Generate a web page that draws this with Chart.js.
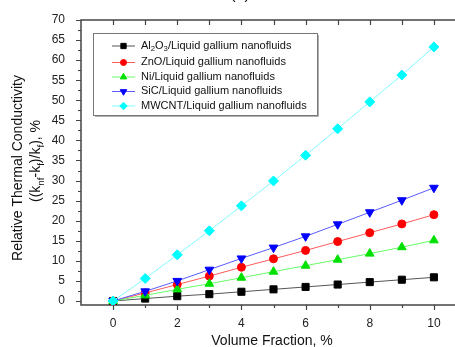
<!DOCTYPE html>
<html>
<head>
<meta charset="utf-8">
<script src="https://cdn.jsdelivr.net/npm/chart.js@4.4.0/dist/chart.umd.min.js"></script>
<style>
  html, body { margin: 0; padding: 0; overflow: hidden; background: #fff; }
</style>
</head>
<body>
<canvas id="chart" width="472" height="347"></canvas>
<script>
// data
var volumeFraction = [0, 1, 2, 3, 4, 5, 6, 7, 8, 9, 10];
var seriesNames = [
    "Al_2O_3/Liquid gallium nanofluids",
    "ZnO/Liquid gallium nanofluids",
    "Ni/Liquid gallium nanofluids",
    "SiC/Liquid gallium nanofluids",
    "MWCNT/Liquid gallium nanofluids"
];
var al2o3 = [0, 0.6, 1.2, 1.7, 2.3, 2.9, 3.5, 4.1, 4.7, 5.3, 5.9];
var zno   = [0, 2.0, 4.1, 6.2, 8.4, 10.5, 12.6, 14.8, 17.0, 19.2, 21.5];
var ni    = [0, 1.4, 2.9, 4.3, 5.8, 7.3, 8.8, 10.3, 11.8, 13.4, 15.1];
var sic   = [0, 2.4, 5.0, 7.8, 10.6, 13.3, 16.1, 19.1, 22.1, 25.1, 28.2];
var mwcnt = [0, 5.6, 11.5, 17.5, 23.7, 29.9, 36.3, 42.9, 49.6, 56.3, 63.3];
var xTickLabels = [0, 2, 4, 6, 8, 10];
var yTickLabels = [0, 5, 10, 15, 20, 25, 30, 35, 40, 45, 50, 55, 60, 65, 70];

var FONT = "Arial, 'Liberation Sans', sans-serif";

var styles = [
    { line: "#555555", mark: "#000000", shape: "rect", r: 5, rot: 0 },
    { line: "#ff5a5a", mark: "#ff0000", shape: "circle", r: 4, rot: 0 },
    { line: "#66ff66", mark: "#00e000", shape: "triangle", r: 5, rot: 0 },
    { line: "#5a5aff", mark: "#0000ff", shape: "triangle", r: 5, rot: 180 },
    { line: "#80ffff", mark: "#00ffff", shape: "rectRot", r: 5, rot: 0 }
];
var allSeries = [al2o3, zno, ni, sic, mwcnt];

function pts(vals) {
    return vals.map(function(v, i) { return { x: volumeFraction[i], y: v }; });
}

var datasets = allSeries.map(function(vals, i) {
    var s = styles[i];
    return {
        label: seriesNames[i],
        data: pts(vals),
        borderColor: s.line,
        borderWidth: 1,
        pointStyle: s.shape,
        pointRotation: s.rot,
        pointRadius: s.r,
        pointBackgroundColor: s.mark,
        pointBorderColor: s.mark,
        pointBorderWidth: 1,
        order: 4 - i
    };
});

// text with _x or _{xy} subscripts
function parseRich(s) {
    var out = [], re = /_\{([^}]*)\}|_(.)|([^_]+)/g, m;
    while ((m = re.exec(s))) {
        if (m[1] !== undefined) out.push({ t: m[1], sub: true });
        else if (m[2] !== undefined) out.push({ t: m[2], sub: true });
        else out.push({ t: m[3], sub: false });
    }
    return out;
}
function richWidth(ctx, segs, size) {
    var w = 0;
    segs.forEach(function(sg) {
        ctx.font = (sg.sub ? size * 0.7 : size) + "px " + FONT;
        w += ctx.measureText(sg.t).width;
    });
    return w;
}
function drawRich(ctx, s, x, y, size, align) {
    var segs = parseRich(s);
    var w = richWidth(ctx, segs, size);
    var cx = align === "center" ? x - w / 2 : x;
    ctx.textBaseline = "middle";
    ctx.textAlign = "left";
    segs.forEach(function(sg) {
        var fs = sg.sub ? size * 0.7 : size;
        ctx.font = fs + "px " + FONT;
        ctx.fillText(sg.t, cx, sg.sub ? y + size * 0.35 : y);
        cx += ctx.measureText(sg.t).width;
    });
}

var decor = {
    id: "decor",
    beforeDatasetsDraw: function(chart) {
        var ctx = chart.ctx, a = chart.chartArea;
        var xs = chart.scales.x, ys = chart.scales.y;
        ctx.save();
        ctx.strokeStyle = "#444";
        ctx.lineWidth = 1.5;
        ctx.beginPath();
        ctx.moveTo(a.right + 5, a.top);
        ctx.lineTo(a.left, a.top);
        ctx.lineTo(a.left, a.bottom);
        ctx.lineTo(a.right + 5, a.bottom);
        ctx.stroke();
        ctx.lineWidth = 1.2;
        ctx.beginPath();
        // left ticks, major every 5 and minor halfway
        for (var v = 0; v <= 70; v += 2.5) {
            var py = Math.round(ys.getPixelForValue(v)) + 0.5;
            var len = (v % 5 === 0) ? 5 : 3;
            ctx.moveTo(a.left - len, py);
            ctx.lineTo(a.left, py);
        }
        // bottom ticks and top ticks
        for (var u = 0; u <= 11; u++) {
            var px = Math.round(xs.getPixelForValue(u)) + 0.5;
            var l2 = (u % 2 === 0) ? 5 : 3;
            ctx.moveTo(px, a.bottom);
            ctx.lineTo(px, a.bottom + l2);
            ctx.moveTo(px, a.top);
            ctx.lineTo(px, a.top + 5);
        }
        ctx.stroke();
        ctx.restore();
    },
    afterDraw: function(chart) {
        var ctx = chart.ctx;
        ctx.save();
        ctx.fillStyle = "#111";
        // partial panel title, cut by the top edge
        ctx.font = "16px " + FONT;
        ctx.textAlign = "center";
        ctx.textBaseline = "alphabetic";
        ctx.fillText("(a)", 240, -1);

        // axis titles
        ctx.font = "14px " + FONT;
        ctx.textBaseline = "middle";
        ctx.fillText("Volume Fraction, %", 272, 341);
        ctx.save();
        ctx.translate(18, 168);
        ctx.rotate(-Math.PI / 2);
        ctx.fillText("Relative Thermal Conductivity", 0, 0);
        ctx.restore();
        ctx.save();
        ctx.translate(36, 161);
        ctx.rotate(-Math.PI / 2);
        drawRich(ctx, "((k_{nf}-k_f)/k_f), %", 0, 0, 14, "center");
        ctx.restore();

        // legend box
        var bx = 93, by = 33, bw = 224, bh = 82;
        ctx.fillStyle = "#ffffff";
        ctx.fillRect(bx, by, bw, bh);
        ctx.strokeStyle = "#b0b0b0";
        ctx.lineWidth = 1;
        ctx.beginPath();
        ctx.moveTo(bx + bw + 1.5, by + 2);
        ctx.lineTo(bx + bw + 1.5, by + bh + 1.5);
        ctx.lineTo(bx + 2, by + bh + 1.5);
        ctx.stroke();
        ctx.strokeStyle = "#777";
        ctx.strokeRect(bx + 0.5, by + 0.5, bw, bh);

        var rows = [45.5, 62, 76.5, 91, 105.5];
        chart.data.datasets.forEach(function(ds, i) {
            var y = rows[i];
            ctx.strokeStyle = ds.borderColor;
            ctx.lineWidth = 1;
            ctx.beginPath();
            ctx.moveTo(112, y + 0.5);
            ctx.lineTo(135, y + 0.5);
            ctx.stroke();
            ctx.fillStyle = ds.pointBackgroundColor;
            ctx.strokeStyle = ds.pointBorderColor;
            Chart.helpers.drawPoint(ctx, {
                pointStyle: ds.pointStyle,
                rotation: ds.pointRotation,
                radius: ds.pointRadius * 0.75,
                borderWidth: 1
            }, 123.5, y + 0.5);
            ctx.fillStyle = "#111";
            drawRich(ctx, ds.label, 141, y, 11, "left");
        });
        ctx.restore();
    }
};

var tickFont = { family: FONT, size: 12 };

new Chart(document.getElementById("chart"), {
    type: "line",
    data: { datasets: datasets },
    options: {
        responsive: false,
        animation: false,
        layout: { padding: { left: 0, top: 20, right: 6, bottom: 0 } },
        plugins: { legend: { display: false }, tooltip: { enabled: false } },
        scales: {
            x: {
                type: "linear",
                min: -1,
                max: 11,
                grid: { display: false },
                border: { display: false },
                ticks: { font: tickFont, color: "#222", padding: 3, maxRotation: 0 },
                afterBuildTicks: function(scale) {
                    scale.ticks = xTickLabels.map(function(v) { return { value: v }; });
                },
                afterFit: function(scale) { scale.height = 42; }
            },
            y: {
                type: "linear",
                min: -1,
                max: 70,
                grid: { display: false },
                border: { display: false },
                ticks: { font: tickFont, color: "#222", padding: 8 },
                afterBuildTicks: function(scale) {
                    scale.ticks = yTickLabels.map(function(v) { return { value: v }; });
                },
                afterFit: function(scale) { scale.height = scale.height; scale.width = 81; }
            }
        }
    },
    plugins: [decor]
});
</script>
</body>
</html>
